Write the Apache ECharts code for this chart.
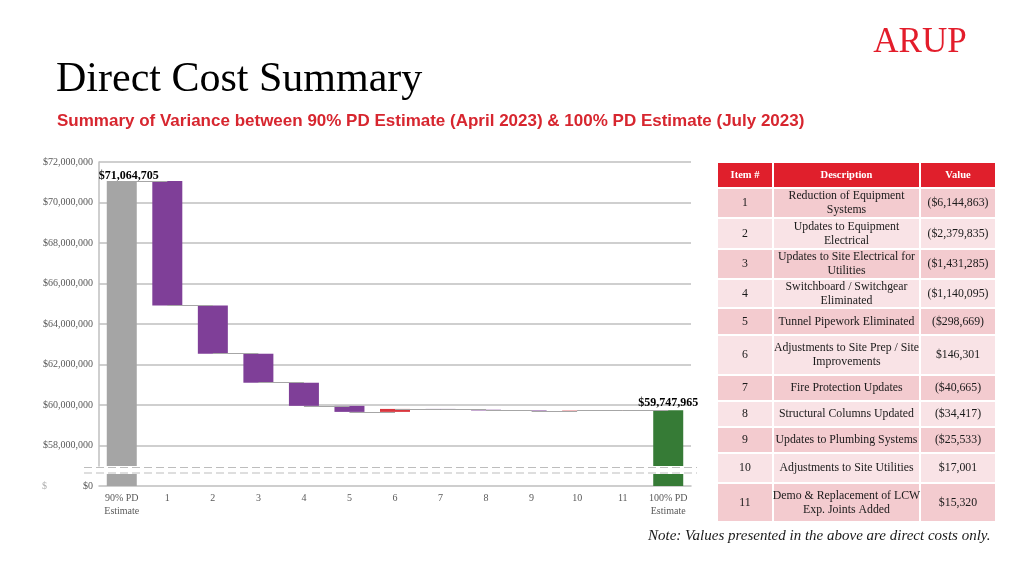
<!DOCTYPE html>
<html><head><meta charset="utf-8">
<script src="https://cdn.jsdelivr.net/npm/echarts@6/dist/echarts.min.js"></script>
<style>html,body{margin:0;padding:0;background:#fff}#c{width:1024px;height:576px}</style>
</head><body><div id="c"></div>
<script>
// ---------- data ----------
const categories = ['90% PD\nEstimate','1','2','3','4','5','6','7','8','9','10','11','100% PD\nEstimate'];
const startTotal = 71064705;
const changes = [-6144863,-2379835,-1431285,-1140095,-298669,146301,-40665,-34417,-25533,17001,15320];
const endTotal = 59747965;
const yTickValues = [58000000,60000000,62000000,64000000,66000000,68000000,70000000,72000000];
const tableHeaders = ['Item #','Description','Value'];
const tableItems = ['1','2','3','4','5','6','7','8','9','10','11'];
const tableDescriptions = [
  'Reduction of Equipment\nSystems',
  'Updates to Equipment\nElectrical',
  'Updates to Site Electrical for\nUtilities',
  'Switchboard / Switchgear\nEliminated',
  'Tunnel Pipework Eliminated',
  'Adjustments to Site Prep / Site\nImprovements',
  'Fire Protection Updates',
  'Structural Columns Updated',
  'Updates to Plumbing Systems',
  'Adjustments to Site Utilities',
  'Demo & Replacement of LCW\nExp. Joints Added'
];
const tableValues = ['($6,144,863)','($2,379,835)','($1,431,285)','($1,140,095)','($298,669)','$146,301','($40,665)','($34,417)','($25,533)','$17,001','$15,320'];

// ---------- styles / layout ----------
const SERIF = '"Liberation Serif","Times New Roman",serif';
const SANS = '"Liberation Sans",Arial,sans-serif';
const C_GRAY = '#a5a5a5', C_GREEN = '#367b36', C_PURPLE = '#7f3f98', C_RED = '#d9363e';
const GRID_L = 99, GRID_W = 592;

// ---------- waterfall computation ----------
const levels = [startTotal];
changes.forEach(c => levels.push(levels[levels.length - 1] + c));
const baseData = [0];
const visData = [];
visData.push({ value: startTotal, itemStyle: { color: C_GRAY },
  label: { show: true, position: 'top', distance: 0, offset: [7, 1] } });
changes.forEach((c, i) => {
  const before = levels[i], after = levels[i + 1];
  baseData.push(Math.min(before, after));
  visData.push({ value: Math.abs(c), itemStyle: { color: c < 0 ? C_PURPLE : C_RED } });
});
baseData.push(0);
visData.push({ value: endTotal, itemStyle: { color: C_GREEN },
  label: { show: true, position: 'top', distance: 1 } });

const bottomData = categories.map((_, i) => {
  if (i === 0) return { value: startTotal, itemStyle: { color: C_GRAY } };
  if (i === categories.length - 1) return { value: endTotal, itemStyle: { color: C_GREEN } };
  return '-';
});

const connectors = [];
for (let i = 0; i < categories.length - 1; i++) {
  const lv = levels[Math.min(i, levels.length - 1)];
  connectors.push([{ coord: [categories[i], lv] }, { coord: [categories[i + 1], lv] }]);
}

const fmtMoney = v => '$' + Math.round(v).toLocaleString('en-US');

// ---------- graphics (title, table, notes) ----------
const graphics = [];
graphics.push({ type: 'text', left: 56, top: 59, style: { text: 'Direct Cost Summary', font: '42px ' + SERIF, fill: '#000' } });
graphics.push({ type: 'text', x: 57, y: 121, style: { text: 'Summary of Variance between 90% PD Estimate (April 2023) & 100% PD Estimate (July 2023)',
  font: 'bold 17px ' + SANS, fill: '#d7262f', verticalAlign: 'middle' } });
graphics.push({ type: 'text', x: 920, y: 43, style: { text: 'ARUP', font: '35px ' + SERIF, fill: '#e31d2b', align: 'center', verticalAlign: 'middle' } });
graphics.push({ type: 'text', x: 648, y: 536, style: { text: 'Note: Values presented in the above are direct costs only.',
  font: 'italic 15px ' + SERIF, fill: '#1a1a1a', verticalAlign: 'middle' } });
graphics.push({ type: 'text', x: 42, y: 486, style: { text: '$', font: '10px ' + SERIF, fill: '#b0b0b0', verticalAlign: 'middle' } });
// axis break lines
[467.5, 473].forEach(y => graphics.push({ type: 'line', shape: { x1: 84, y1: y, x2: 697, y2: y },
  style: { stroke: '#bdbdbd', lineWidth: 1, lineDash: [8, 4] }, z: 10 }));

// table
const colX = [[718, 772], [774, 919], [921, 995]];
const headerRow = [163, 24];
const rowBoxes = [[189,28],[219,29],[250,28],[280,27],[309,25],[336,38],[376,24],[402,24],[428,24],[454,28],[484,37]];
colX.forEach((cx, j) => {
  graphics.push({ type: 'rect', shape: { x: cx[0], y: headerRow[0], width: cx[1] - cx[0], height: headerRow[1] }, style: { fill: '#e01f2c' } });
  graphics.push({ type: 'text', x: (cx[0] + cx[1]) / 2, y: headerRow[0] + headerRow[1] / 2,
    style: { text: tableHeaders[j], font: 'bold 10.5px ' + SERIF, fill: '#fff', align: 'center', verticalAlign: 'middle' } });
});
tableItems.forEach((it, i) => {
  const [ry, rh] = rowBoxes[i];
  const fill = i % 2 === 0 ? '#f3cbcf' : '#f9e3e6';
  const texts = [it, tableDescriptions[i], tableValues[i]];
  colX.forEach((cx, j) => {
    graphics.push({ type: 'rect', shape: { x: cx[0], y: ry, width: cx[1] - cx[0], height: rh }, style: { fill } });
    graphics.push({ type: 'text', x: (cx[0] + cx[1]) / 2, y: ry + rh / 2,
      style: { text: texts[j], font: '11.8px ' + SERIF, fill: '#1a1a1a', align: 'center', verticalAlign: 'middle', lineHeight: 14 } });
  });
});

// ---------- chart ----------
const chart = echarts.init(document.getElementById('c'), null, { renderer: 'canvas' });
chart.setOption({
  animation: false,
  backgroundColor: '#fff',
  grid: [
    { left: GRID_L, width: GRID_W, top: 162, height: 304 },
    { left: GRID_L, width: GRID_W, top: 474, height: 12 }
  ],
  xAxis: [
    { gridIndex: 0, type: 'category', data: categories, axisLine: { show: false }, axisTick: { show: false }, axisLabel: { show: false } },
    { gridIndex: 1, type: 'category', data: categories,
      axisLine: { show: true, lineStyle: { color: '#bfbfbf', width: 1.5 } }, axisTick: { show: false },
      axisLabel: { show: true, interval: 0, fontFamily: SERIF, fontSize: 10, color: '#595959', lineHeight: 13, margin: 6 } }
  ],
  yAxis: [
    { gridIndex: 0, type: 'value', min: 57000000, max: 72000000,
      axisLine: { show: true, lineStyle: { color: '#bfbfbf', width: 1.5 } },
      axisTick: { show: false, customValues: yTickValues },
      axisLabel: { customValues: yTickValues, formatter: fmtMoney, fontFamily: SERIF, fontSize: 10, color: '#595959', margin: 6 },
      splitLine: { show: true, lineStyle: { color: '#bfbfbf', width: 1.5 } } },
    { gridIndex: 1, type: 'value', min: 0, max: 1000000,
      axisLine: { show: false }, axisTick: { show: false, customValues: [0] },
      axisLabel: { customValues: [0], formatter: fmtMoney, fontFamily: SERIF, fontSize: 10, color: '#595959', margin: 6 },
      splitLine: { show: false } }
  ],
  series: [
    { type: 'line', xAxisIndex: 0, yAxisIndex: 0, data: [], z: 1, silent: true,
      markLine: { silent: true, symbol: ['none', 'none'], label: { show: false },
        lineStyle: { color: '#a6a6a6', width: 1, type: 'solid' }, data: connectors } },
    { type: 'bar', name: 'base', xAxisIndex: 0, yAxisIndex: 0, stack: 'wf', barWidth: 30, z: 2,
      itemStyle: { color: 'rgba(0,0,0,0)' }, data: baseData, silent: true },
    { type: 'bar', name: 'value', xAxisIndex: 0, yAxisIndex: 0, stack: 'wf', barWidth: 30, z: 3,
      label: { show: false, fontFamily: SERIF, fontWeight: 'bold', fontSize: 12, color: '#000',
        formatter: p => fmtMoney(p.value) },
      data: visData },
    { type: 'bar', name: 'bottom', xAxisIndex: 1, yAxisIndex: 1, barWidth: 30, z: 3, data: bottomData }
  ],
  graphic: graphics
});
</script></body></html>
